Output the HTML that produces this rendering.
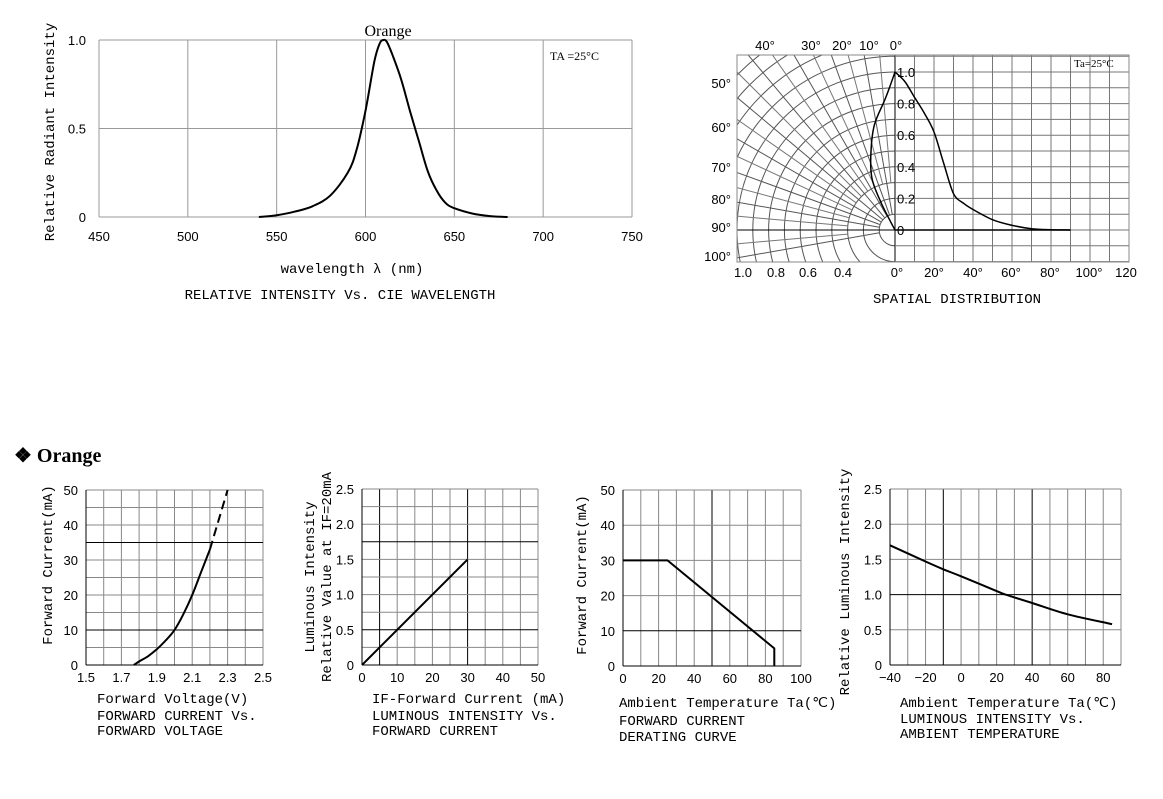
<!DOCTYPE html>
<html><head><meta charset="utf-8"><style>
body{margin:0;background:#fff;width:1163px;height:794px;overflow:hidden}
svg text{fill:#000}
.t{font-family:"Liberation Sans",sans-serif;font-size:13px}
.m{font-family:"Liberation Mono",monospace;font-size:14px}
.s{font-family:"Liberation Serif",serif}
</style></head><body>
<svg id="root" xmlns="http://www.w3.org/2000/svg" width="1163" height="794" viewBox="0 0 1163 794">
<defs><clipPath id="polarClip"><rect x="737" y="55" width="158" height="207"/></clipPath></defs>
<text x="14" y="462" class="s" style="font-size:20px;font-weight:bold">❖ Orange</text>
</svg>
<script>
// spectrum data
const specWl=[540,550,560,570,580,590,595,600,605,608,610,612,615,620,625,630,635,640,645,650,660,670,680];
const specI=[0,0.01,0.03,0.06,0.12,0.25,0.38,0.6,0.88,0.98,1.0,0.99,0.92,0.78,0.6,0.43,0.26,0.15,0.08,0.05,0.02,0.005,0];
const specXTicks=[450,500,550,600,650,700,750];
const specYTicks=[0,0.5,1.0];
// spatial distribution
const polarAng=[0,4,11,17,24,27,28,0];
const polarR=[1.0,0.84,0.68,0.52,0.36,0.20,0.06,0];
const cartAng=[0,5,10,15,20,25,30,35,40,50,60,70,80,90];
const cartI=[1.0,0.94,0.84,0.74,0.62,0.42,0.23,0.17,0.13,0.065,0.03,0.008,0.002,0];
// IV
const ivV=[1.77,1.8,1.85,1.9,1.95,2.0,2.05,2.1,2.15,2.2];
const ivI=[0,1,2.5,4.5,7,10,14.5,20,26.5,33];
const ivDashV=[2.2,2.3];
const ivDashI=[33,50];
// Lum vs current
const lcI=[0,30];
const lcL=[0,1.5];
// derating
const drT=[0,25,85,85];
const drI=[30,30,5,0];
// lum vs temp
const ltT=[-40,-20,-10,0,20,25,40,60,85];
const ltL=[1.7,1.47,1.36,1.26,1.05,1.0,0.88,0.72,0.58];

const NS='http://www.w3.org/2000/svg';
const root=document.getElementById('root');
function mk(tag,attrs,name,parent){
  const el=document.createElementNS(NS,tag);
  for(const k in attrs) el.setAttribute(k,attrs[k]);
  
  
  (parent||root).appendChild(el);return el;}
function txt(x,y,s,cls,name,extra){const a=Object.assign({x:x,y:y,class:cls},extra||{});const e=mk('text',a,name);e.textContent=s;return e;}
function lin(d0,d1,r0,r1){return v=>r0+(v-d0)/(d1-d0)*(r1-r0);}
function line(x1,y1,x2,y2,c,w,name,p){return mk('line',{x1:x1,y1:y1,x2:x2,y2:y2,stroke:c,'stroke-width':w},name,p);}
function smoothD(P){
  if(P.length<3){return P.map((p,i)=>(i?'L':'M')+p[0].toFixed(1)+','+p[1].toFixed(1)).join('');}
  let d='M'+P[0][0].toFixed(1)+','+P[0][1].toFixed(1);
  for(let i=0;i<P.length-1;i++){const p0=P[Math.max(0,i-1)],p1=P[i],p2=P[i+1],p3=P[Math.min(P.length-1,i+2)];
    const c1=[p1[0]+(p2[0]-p0[0])/6,p1[1]+(p2[1]-p0[1])/6],c2=[p2[0]-(p3[0]-p1[0])/6,p2[1]-(p3[1]-p1[1])/6];
    d+='C'+c1[0].toFixed(1)+','+c1[1].toFixed(1)+' '+c2[0].toFixed(1)+','+c2[1].toFixed(1)+' '+p2[0].toFixed(1)+','+p2[1].toFixed(1);}
  return d;}
function path(xs,ys,sx,sy,name,extra,smooth){const P=xs.map((v,i)=>[sx(v),sy(ys[i])]);
  const d=smooth?smoothD(P):P.map((p,i)=>(i?'L':'M')+p[0].toFixed(1)+','+p[1].toFixed(1)).join('');
  return mk('path',Object.assign({d:d,fill:'none',stroke:'#000','stroke-width':2,'stroke-linejoin':'round'},extra||{}),name);}

// ---- spectrum ----
{const sx=lin(450,750,99,632),sy=lin(0,1,217,40);
 specXTicks.forEach(v=>{line(sx(v),40,sx(v),217,'#999',1,'spectrum-grid-x');txt(sx(v),241,String(v),'t','spectrum-x-tick',{'text-anchor':'middle'});});
 specYTicks.forEach(v=>{line(99,sy(v),632,sy(v),'#999',1,'spectrum-grid-y');txt(86,sy(v)+5,v===0?'0':v.toFixed(1),'t','spectrum-y-tick',{'text-anchor':'end'});});
 path(specWl,specI,sx,sy,'spectrum-curve',{},true);
 txt(388,36,'Orange','s','spectrum-title',{'text-anchor':'middle','font-size':'16'});
 txt(550,60,'TA =25°C','s','spectrum-temp-note',{'font-size':'12'});
 txt(352,273,'wavelength λ (nm)','m','spectrum-x-title',{'text-anchor':'middle','font-size':'13'});
 txt(340,299,'RELATIVE INTENSITY Vs. CIE WAVELENGTH','m','spectrum-caption',{'text-anchor':'middle','font-size':'13'});
 txt(0,0,'Relative Radiant Intensity','m','spectrum-y-title',{'text-anchor':'middle','font-size':'13',transform:'translate(54,132) rotate(-90)'});
}
// ---- polar ----
{const cx=895,cy=230,R=158;
 const g=mk('g',{'clip-path':'url(#polarClip)'},'polar-grid-left');
 for(let k=1;k<=15;k++) mk('circle',{cx:cx,cy:cy,r:k*R/10,fill:'none',stroke:'#555','stroke-width':1},'polar-circle',g);
 for(let a=10;a<=100;a+=10){const t=a*Math.PI/180;line(cx-0.1*R*Math.sin(t),cy-0.1*R*Math.cos(t),cx-2*R*Math.sin(t),cy-2*R*Math.cos(t),'#555',1,'polar-radial',g);}
 for(let a=5;a<=95;a+=10){const t=a*Math.PI/180;line(cx-0.3*R*Math.sin(t),cy-0.3*R*Math.cos(t),cx-2*R*Math.sin(t),cy-2*R*Math.cos(t),'#777',1,'polar-radial-minor',g);}
 const cw=234/12;
 for(let i=0;i<=12;i++) line(cx+i*cw,55,cx+i*cw,262,i===0?'#000':'#777',1,'polar-grid-x');
 for(let k=-2;k<=11;k++) line(cx,cy-k*R/10,1129,cy-k*R/10,'#777',1,'polar-grid-y');
 line(737,cy,cx,cy,'#000',1,'polar-axis-left');
 mk('rect',{x:737,y:55,width:392,height:207,fill:'none',stroke:'#888','stroke-width':1},'polar-frame');
 line(cx,cy,cx+90*cw/10,cy,'#000',1.5,'polar-baseline');
 const px=(a,r)=>cx-r*R*Math.sin(a*Math.PI/180),py=(a,r)=>cy-r*R*Math.cos(a*Math.PI/180);
 const PP=polarAng.map((a,i)=>[px(a,polarR[i]),py(a,polarR[i])]);
 mk('path',{d:smoothD(PP),fill:'none',stroke:'#000','stroke-width':1.5},'polar-curve');
 path(cartAng,cartI,a=>cx+a*cw/10,v=>cy-v*R,'spatial-curve',{'stroke-width':1.5},true);
 [['1.0',1],['0.8',0.8],['0.6',0.6],['0.4',0.4],['0.2',0.2],['0',0]].forEach(p=>txt(897,cy-p[1]*R+5,p[0],'t','polar-r-label',{'font-size':'11'}));
 txt(1074,67,'Ta=25°C','s','polar-temp-note',{'font-size':'11'});
 [['40°',765],['30°',811],['20°',842],['10°',869],['0°',896]].forEach(p=>txt(p[1],50,p[0],'t','polar-top-angle',{'text-anchor':'middle','font-size':'12'}));
 [['50°',88],['60°',132],['70°',172],['80°',204],['90°',232],['100°',261]].forEach(p=>txt(731,p[1],p[0],'t','polar-left-angle',{'text-anchor':'end','font-size':'12'}));
 [['1.0',743],['0.8',776],['0.6',808],['0.4',843],['0°',897],['20°',934],['40°',973],['60°',1011],['80°',1050],['100°',1089],['120',1126]].forEach(p=>txt(p[1],277,p[0],'t','polar-bottom-label',{'text-anchor':'middle','font-size':'12'}));
 txt(957,303,'SPATIAL DISTRIBUTION','m','polar-caption',{'text-anchor':'middle','font-size':'13'});
}
// ---- generic grid chart ----
function gchart(o){
 const sx=lin(o.xmin,o.xmax,o.x0,o.x1),sy=lin(o.ymin,o.ymax,o.y1,o.y0);
 for(let v=o.xmin;v<=o.xmax+1e-9;v+=o.xs){const dk=o.dx.some(d=>Math.abs(d-v)<1e-6);line(sx(v),o.y0,sx(v),o.y1,dk?'#000':'#888',1,o.id+'-grid-x');}
 for(let v=o.ymin;v<=o.ymax+1e-9;v+=o.ys){const dk=o.dy.some(d=>Math.abs(d-v)<1e-6);line(o.x0,sy(v),o.x1,sy(v),dk?'#000':'#888',1,o.id+'-grid-y');}
 line(o.x0,o.y0,o.x0,o.y1,'#000',1,o.id+'-y-axis');line(o.x0,o.y1,o.x1,o.y1,'#000',1,o.id+'-x-axis');
 o.xt.forEach(v=>txt(sx(v),o.y1+17,typeof v==='number'&&o.xf?o.xf(v):String(v),'t',o.id+'-x-tick',{'text-anchor':'middle','font-size':'13.5'}));
 o.yt.forEach(v=>txt(o.x0-8,sy(v)+5,o.yf?o.yf(v):String(v),'t',o.id+'-y-tick',{'text-anchor':'end','font-size':'13.5'}));
 return [sx,sy];}
{const [sx,sy]=gchart({id:'iv',x0:86,x1:263,y0:490,y1:665,xmin:1.5,xmax:2.5,ymin:0,ymax:50,xs:0.1,ys:5,dx:[],dy:[10,35],xt:[1.5,1.7,1.9,2.1,2.3,2.5],yt:[0,10,20,30,40,50],xf:v=>v.toFixed(1)});
 path(ivV,ivI,sx,sy,'iv-curve',{},true);path(ivDashV,ivDashI,sx,sy,'iv-curve-dashed',{'stroke-dasharray':'9,5'});
 txt(0,0,'Forward Current(mA)','m','iv-y-title',{'text-anchor':'middle',transform:'translate(52,565) rotate(-90)'});
 txt(97,703,'Forward Voltage(V)','m','iv-x-title');txt(97,720,'FORWARD CURRENT Vs.','m','iv-caption-1');txt(97,735,'FORWARD VOLTAGE','m','iv-caption-2');}
{const [sx,sy]=gchart({id:'lc',x0:362,x1:538,y0:489,y1:665,xmin:0,xmax:50,ymin:0,ymax:2.5,xs:5,ys:0.25,dx:[5,30],dy:[0.5,1.75],xt:[0,10,20,30,40,50],yt:[0,0.5,1,1.5,2,2.5],yf:v=>v===0?'0':v.toFixed(1)});
 path(lcI,lcL,sx,sy,'lc-line');
 txt(0,0,'Luminous Intensity','m','lc-y-title-1',{'text-anchor':'middle',transform:'translate(314,577) rotate(-90)'});
 txt(0,0,'Relative Value at IF=20mA','m','lc-y-title-2',{'text-anchor':'middle',transform:'translate(331,577) rotate(-90)'});
 txt(372,703,'IF-Forward Current (mA)','m','lc-x-title');txt(372,720,'LUMINOUS INTENSITY Vs.','m','lc-caption-1');txt(372,735,'FORWARD CURRENT','m','lc-caption-2');}
{const [sx,sy]=gchart({id:'dr',x0:623,x1:801,y0:490,y1:666,xmin:0,xmax:100,ymin:0,ymax:50,xs:10,ys:10,dx:[50],dy:[10],xt:[0,20,40,60,80,100],yt:[0,10,20,30,40,50]});
 path(drT,drI,sx,sy,'derating-curve');
 txt(0,0,'Forward Current(mA)','m','dr-y-title',{'text-anchor':'middle',transform:'translate(586,575) rotate(-90)'});
 txt(619,707,'Ambient Temperature Ta(℃)','m','dr-x-title');txt(619,725,'FORWARD CURRENT','m','dr-caption-1');txt(619,741,'DERATING CURVE','m','dr-caption-2');}
{const [sx,sy]=gchart({id:'lt',x0:890,x1:1121,y0:489,y1:665,xmin:-40,xmax:90,ymin:0,ymax:2.5,xs:10,ys:0.5,dx:[-10,40],dy:[1],xt:[-40,-20,0,20,40,60,80],yt:[0,0.5,1,1.5,2,2.5],xf:v=>v<0?'−'+(-v):String(v),yf:v=>v===0?'0':v.toFixed(1)});
 path(ltT,ltL,sx,sy,'lt-curve',{},true);
 txt(0,0,'Relative Luminous Intensity','m','lt-y-title',{'text-anchor':'middle',transform:'translate(849,582) rotate(-90)'});
 txt(900,707,'Ambient Temperature Ta(℃)','m','lt-x-title');txt(900,723,'LUMINOUS INTENSITY Vs.','m','lt-caption-1');txt(900,738,'AMBIENT TEMPERATURE','m','lt-caption-2');}
</script>
</body></html>
